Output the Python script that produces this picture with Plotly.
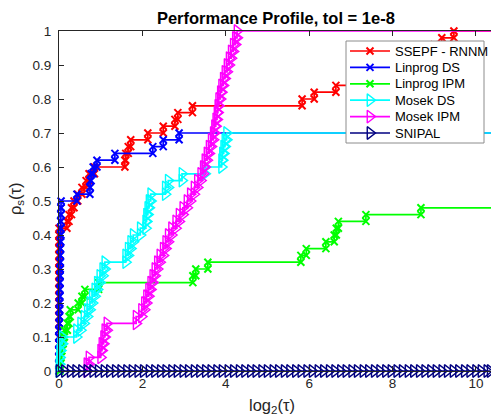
import plotly.graph_objects as go

# Performance profile: log2 of performance ratio at which each solved problem is reached
n_problems = 50

ssepf_rnnm = [0.0] * 21 + [
    0.19, 0.24, 0.30, 0.36, 0.45, 0.55, 0.65, 0.72, 0.85,
    1.58, 1.60, 1.66, 1.72, 2.13, 2.50, 2.78, 2.85, 3.20,
    5.83, 6.12, 6.64, 7.20, 7.60, 8.00, 8.30, 8.70, 9.00, 9.18, 9.47,
]
linprog_ds = [
    0.0, 0.0, 0.0, 0.0, 0.0, 0.0, 0.005, 0.01, 0.01, 0.012, 0.015, 0.018,
    0.02, 0.022, 0.025, 0.028, 0.03, 0.032, 0.035, 0.038, 0.04, 0.042,
    0.045, 0.048, 0.05,
    0.43, 0.74, 0.75, 0.77, 0.82, 0.91, 1.34, 2.25, 2.50, 2.88,
]
linprog_ipm = [
    0.02, 0.03, 0.05, 0.07, 0.10, 0.13, 0.20, 0.24, 0.27, 0.46, 0.55, 0.62,
    0.95, 3.21, 3.28, 3.57, 5.80, 5.93, 6.40, 6.60, 6.65, 6.70, 7.36, 8.68,
]
mosek_ds = [
    0.0, 0.01, 0.02, 0.04, 0.08, 0.42, 0.52, 0.60, 0.68, 0.74, 0.80, 0.86,
    0.92, 0.98, 1.05, 1.10, 1.60, 1.66, 1.72, 1.78, 1.95, 2.08, 2.10, 2.13,
    2.16, 2.20, 2.55, 2.62, 2.95, 3.50, 3.90, 3.92, 3.95, 3.98, 4.02,
]
mosek_ipm = [
    0.67, 0.72, 1.00, 1.03, 1.07, 1.10, 1.15, 1.85, 1.98, 2.05, 2.10, 2.15,
    2.20, 2.25, 2.30, 2.36, 2.42, 2.50, 2.56, 2.62, 2.70, 2.80, 2.88, 2.97,
    3.07, 3.15, 3.24, 3.32, 3.40, 3.46, 3.50, 3.55, 3.60, 3.65, 3.70, 3.73,
    3.76, 3.79, 3.81, 3.83, 3.87, 3.90, 3.94, 3.98, 4.03, 4.08, 4.13, 4.18,
    4.23, 4.27,
]
# SNIPAL solves nothing within the range: sampled points along rho = 0
snipal_tau = [
    0.00, 0.13, 0.27, 0.40, 0.54, 0.67, 0.81, 0.94, 1.08, 1.21, 1.35, 1.48,
    1.62, 1.75, 1.89, 2.02, 2.16, 2.29, 2.43, 2.56, 2.70, 2.83, 2.97, 3.10,
    3.24, 3.37, 3.51, 3.64, 3.78, 3.91, 4.05, 4.18, 4.32, 4.45, 4.59, 4.72,
    4.86, 4.99, 5.13, 5.26, 5.40, 5.53, 5.67, 5.80, 5.94, 6.07, 6.21, 6.34,
    6.48, 6.61, 6.75, 6.88, 7.02, 7.15, 7.29, 7.42, 7.56, 7.69, 7.83, 7.96,
    8.10, 8.23, 8.37, 8.50, 8.64, 8.77, 8.91, 9.04, 9.18, 9.31, 9.45, 9.58,
    9.72, 9.85, 9.99, 10.12, 10.26, 10.34,
]
snipal_rho = [0.0] * len(snipal_tau)

x_ticks = [0, 2, 4, 6, 8, 10]
y_ticks = [0, 0.1, 0.2, 0.3, 0.4, 0.5, 0.6, 0.7, 0.8, 0.9, 1]
y_tick_text = ["0", "0.1", "0.2", "0.3", "0.4", "0.5", "0.6", "0.7", "0.8", "0.9", "1"]
x_end = 11.0  # failed problems sit beyond the visible range

# Figure geometry in pixels
W, H = 491, 417
M_L, M_R, M_T, M_B = 59, 0, 31, 46


def stair_corners(ratios):
    """Corner points of the staircase rho_s(tau), markers on every corner."""
    xs, ys = [], []
    prev = 0.0
    for i, t in enumerate(sorted(ratios), start=1):
        y = i / n_problems
        xs += [t, t]
        ys += [prev, y]
        prev = y
    xs.append(x_end)
    ys.append(prev)
    return xs, ys


X_STYLE = dict(symbol="x-thin-open", size=7, width=2)
TRI_STYLE = dict(symbol="triangle-right-open", size=11, width=1.4)

series = [
    ("SSEPF - RNNM", ssepf_rnnm, "#FF0000", X_STYLE),
    ("Linprog DS", linprog_ds, "#0000FF", X_STYLE),
    ("Linprog IPM", linprog_ipm, "#00FF00", X_STYLE),
    ("Mosek DS", mosek_ds, "#00FFFF", TRI_STYLE),
    ("Mosek IPM", mosek_ipm, "#FF00FF", TRI_STYLE),
]
snipal_style = ("SNIPAL", "#000080", TRI_STYLE)


def marker_of(color, style):
    return dict(symbol=style["symbol"], size=style["size"], color=color,
                line=dict(color=color, width=style["width"]))


fig = go.Figure()
for name, ratios, color, style in series:
    xs, ys = stair_corners(ratios)
    fig.add_trace(go.Scatter(
        x=xs, y=ys, name=name, mode="lines+markers",
        line=dict(color=color, width=1.7),
        marker=marker_of(color, style),
        cliponaxis=False,
    ))

fig.add_trace(go.Scatter(
    x=snipal_tau, y=snipal_rho, name="SNIPAL", mode="lines+markers",
    line=dict(color="#000080", width=1.7),
    marker=marker_of("#000080", TRI_STYLE),
    cliponaxis=False,
))

# Compact boxed legend, drawn on an overlay axis measured in pixels
box_left, box_right, box_top, box_bottom = 346, 484, 41, 143
row_y0, row_step = 51, 16.4
sample_x0, sample_x1, label_x = 350, 390, 393

fig.add_trace(go.Scatter(
    x=[box_left, box_right, box_right, box_left, box_left],
    y=[box_top, box_top, box_bottom, box_bottom, box_top],
    mode="lines", fill="toself", fillcolor="white",
    line=dict(color="#8c8c8c", width=1),
    xaxis="x2", yaxis="y2", hoverinfo="skip", showlegend=False,
))

legend_entries = [(n, c, s) for n, _, c, s in series] + [snipal_style]
annotations = []
for i, (name, color, style) in enumerate(legend_entries):
    ry = row_y0 + i * row_step
    fig.add_trace(go.Scatter(
        x=[sample_x0, sample_x1], y=[ry, ry], mode="lines",
        line=dict(color=color, width=1.7),
        xaxis="x2", yaxis="y2", hoverinfo="skip", showlegend=False,
    ))
    fig.add_trace(go.Scatter(
        x=[(sample_x0 + sample_x1) / 2], y=[ry], mode="markers",
        marker=marker_of(color, style),
        xaxis="x2", yaxis="y2", hoverinfo="skip", showlegend=False,
    ))
    annotations.append(dict(
        text=name, x=label_x, y=ry, xref="x2", yref="y2",
        xanchor="left", yanchor="middle", showarrow=False,
        font=dict(size=13, color="black"),
    ))

axis_color = "#262626"
annotations += [
    dict(text="log<sub>2</sub>(τ)", x=0.493, y=-0.103, xref="paper", yref="paper",
         xanchor="center", yanchor="middle", showarrow=False,
         font=dict(size=16.5, color=axis_color)),
    dict(text="ρ<sub>s</sub>(τ)", x=-0.1, y=0.508, xref="paper", yref="paper",
         xanchor="center", yanchor="middle", showarrow=False, textangle=-90,
         font=dict(size=16.5, color=axis_color)),
]

fig.update_layout(
    width=W, height=H,
    margin=dict(l=M_L, r=M_R, t=M_T, b=M_B),
    paper_bgcolor="white", plot_bgcolor="white",
    font=dict(family="Liberation Sans, Arial, sans-serif", size=13, color=axis_color),
    title=dict(text="<b>Performance Profile, tol = 1e-8</b>",
               x=0.502, xref="paper", xanchor="center",
               y=0.957, yref="container", yanchor="middle",
               font=dict(size=16.5, color="black")),
    showlegend=False,
    xaxis=dict(range=[0, 10.36], tickvals=x_ticks, ticks="inside", ticklen=5,
               showgrid=False, zeroline=False, showline=True,
               linecolor=axis_color, linewidth=1, mirror="ticks",
               tickcolor=axis_color, tickfont=dict(size=13.5, color=axis_color)),
    yaxis=dict(range=[0, 1], tickvals=y_ticks, ticktext=y_tick_text,
               ticks="inside", ticklen=5, ticklabelstandoff=4,
               showgrid=False, zeroline=False, showline=True,
               linecolor=axis_color, linewidth=1,
               tickcolor=axis_color, tickfont=dict(size=13.5, color=axis_color)),
    xaxis2=dict(overlaying="x", anchor="y2", range=[M_L, W - M_R], visible=False,
                fixedrange=True),
    yaxis2=dict(overlaying="y", anchor="x2", range=[H - M_B, M_T], visible=False,
                fixedrange=True),
    annotations=annotations,
)

fig.write_html("out.html")
